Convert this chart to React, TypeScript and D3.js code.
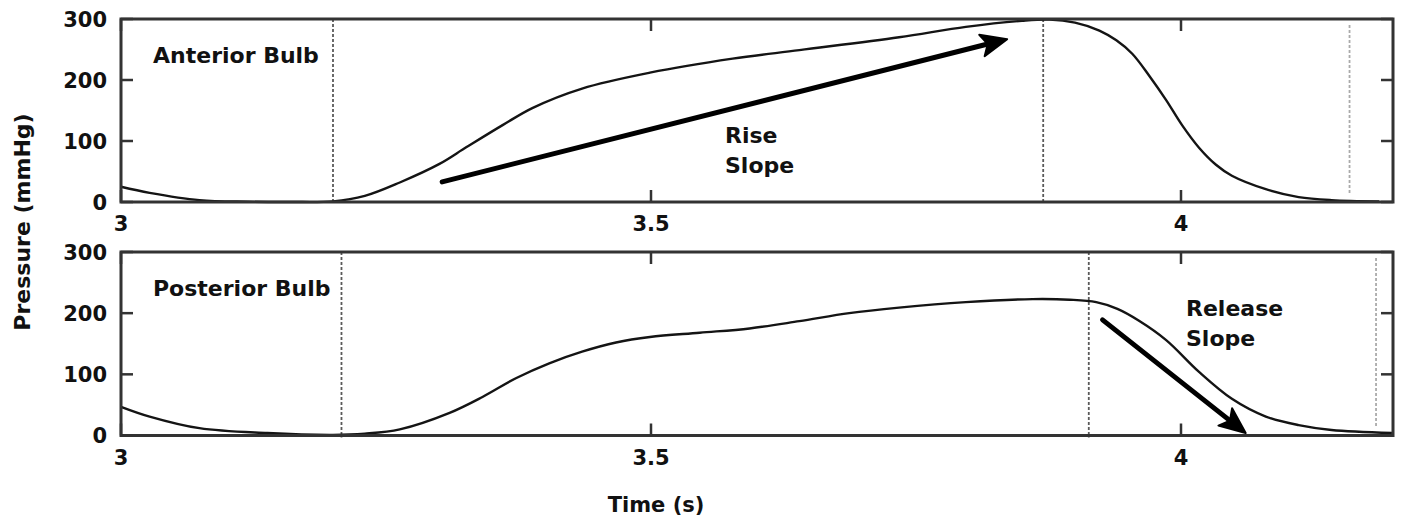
import React from 'react';
import { scaleLinear, line, curveCatmullRom } from 'd3';

// time samples (s) and pressures (mmHg)
const anteriorT = [3.0, 3.027, 3.074, 3.12, 3.16, 3.2, 3.23, 3.263, 3.3, 3.326, 3.36, 3.388, 3.435, 3.499, 3.577, 3.64, 3.734, 3.797, 3.85, 3.876, 3.9, 3.923, 3.939, 3.954, 3.97, 3.986, 4.001, 4.017, 4.033, 4.048, 4.08, 4.111, 4.142, 4.187];
const anteriorP = [25, 15, 3, 0.5, 0, 1, 10, 32, 62, 90, 126, 154, 186, 212, 235, 249, 270, 287, 297, 299, 294, 281, 265, 243, 207, 167, 126, 89, 61, 43, 21, 8, 3, 1];

const posteriorT = [3.0, 3.027, 3.074, 3.138, 3.2, 3.23, 3.263, 3.31, 3.341, 3.373, 3.404, 3.435, 3.467, 3.499, 3.546, 3.593, 3.64, 3.687, 3.734, 3.797, 3.86, 3.895, 3.92, 3.94, 3.96, 3.986, 4.017, 4.048, 4.08, 4.111, 4.142, 4.199];
const posteriorP = [47, 31, 12, 4, 1, 3, 10, 37, 63, 94, 118, 137, 152, 161, 168, 175, 187, 200, 209, 218, 223, 222, 218, 207, 188, 156, 104, 60, 31, 17, 9, 4];

const xTicks = [3, 3.5, 4];
const xTickLabels = ['3', '3.5', '4'];
const yTicks = [0, 100, 200, 300];

// event markers (onset, peak/release, end)
const anteriorEvents = [3.2, 3.87, 4.159];
const posteriorEvents = [3.208, 3.913, 4.184];

// annotation arrows [t0, p0, t1, p1]
const riseArrow = [3.303, 33, 3.836, 267];
const releaseArrow = [3.926, 189, 4.061, 4];

const font = '"DejaVu Sans", sans-serif';
const ink = '#111';

const x = scaleLinear().domain([3, 4.2]).range([121, 1393]);

function Arrow({ pts, y }: { pts: number[]; y: any }) {
  const x0 = x(pts[0]), y0 = y(pts[1]), x1 = x(pts[2]), y1 = y(pts[3]);
  const ang = Math.atan2(y1 - y0, x1 - x0);
  const len = 26, half = 11;
  const bx = x1 - len * Math.cos(ang), by = y1 - len * Math.sin(ang);
  const nx = -Math.sin(ang), ny = Math.cos(ang);
  const head = `${x1},${y1} ${bx + nx * half},${by + ny * half} ${bx + 6 * Math.cos(ang)},${by + 6 * Math.sin(ang)} ${bx - nx * half},${by - ny * half}`;
  return (
    <g>
      <line x1={x0} y1={y0} x2={bx + 8 * Math.cos(ang)} y2={by + 8 * Math.sin(ang)} stroke="#000" strokeWidth={5} strokeLinecap="round" />
      <polygon points={head} fill="#000" stroke="#000" strokeWidth={2} strokeLinejoin="round" />
    </g>
  );
}

function Panel({ top, bottom, t, p, events, label, arrow, note, noteX, noteY }: any) {
  const y = scaleLinear().domain([0, 300]).range([bottom, top]);
  const path = line<number>().x((d, i) => x(t[i])).y((d) => y(d)).curve(curveCatmullRom.alpha(0.5))(p) || '';
  const [x0, x1] = x.range();
  return (
    <g>
      {events.map((e: number, i: number) => (
        <line key={i} x1={x(e)} x2={x(e)}
          y1={i === 2 ? top + 6 : top} y2={i === 2 ? bottom - 8 : bottom + 2}
          stroke={i === 2 ? '#aaa' : '#5a5a5a'} strokeWidth={1.8} strokeDasharray="3,2" />
      ))}
      <path d={path} fill="none" stroke="#141414" strokeWidth={2.4} />
      <rect x={x0} y={top} width={x1 - x0} height={bottom - top} fill="none" stroke="#333" strokeWidth={3} />
      {yTicks.map((v) => (
        <g key={v}>
          <line x1={x0} x2={x0 + 12} y1={y(v)} y2={y(v)} stroke="#333" strokeWidth={2.5} />
          <line x1={x1} x2={x1 - 12} y1={y(v)} y2={y(v)} stroke="#333" strokeWidth={2.5} />
          <text x={x0 - 14} y={y(v)} dy="0.36em" textAnchor="end" fontFamily={font} fontWeight="bold" fontSize={21} fill={ink}>{v}</text>
        </g>
      ))}
      {xTicks.map((v, i) => (
        <g key={v}>
          <line x1={x(v)} x2={x(v)} y1={top} y2={top + 12} stroke="#333" strokeWidth={2.5} />
          <line x1={x(v)} x2={x(v)} y1={bottom} y2={bottom - 12} stroke="#333" strokeWidth={2.5} />
          <text x={x(v)} y={bottom + 29} textAnchor="middle" fontFamily={font} fontWeight="bold" fontSize={21} fill={ink}>{xTickLabels[i]}</text>
        </g>
      ))}
      <text x={153} y={top + 44} fontFamily={font} fontWeight="bold" fontSize={22} fill={ink}>{label}</text>
      <Arrow pts={arrow} y={y} />
      <text fontFamily={font} fontWeight="bold" fontSize={22} fill={ink}>
        <tspan x={noteX} y={top + noteY}>{note[0]}</tspan>
        <tspan x={noteX} y={top + noteY + 30}>{note[1]}</tspan>
      </text>
    </g>
  );
}

export default function App() {
  return (
    <div style={{ position: 'absolute', left: 0, top: 0 }}>
      <svg width={1402} height={522} style={{ display: 'block', background: '#fff' }}>
        <Panel top={19} bottom={202} t={anteriorT} p={anteriorP} events={anteriorEvents}
          label="Anterior Bulb" arrow={riseArrow} note={['Rise', 'Slope']} noteX={725} noteY={124} />
        <Panel top={252} bottom={435.5} t={posteriorT} p={posteriorP} events={posteriorEvents}
          label="Posterior Bulb" arrow={releaseArrow} note={['Release', 'Slope']} noteX={1186} noteY={64} />
        <text transform="translate(30,222) rotate(-90)" textAnchor="middle" fontFamily={font} fontWeight="bold" fontSize={22} fill={ink}>Pressure (mmHg)</text>
        <text x={656} y={512} textAnchor="middle" fontFamily={font} fontWeight="bold" fontSize={21} fill={ink}>Time (s)</text>
      </svg>
    </div>
  );
}
